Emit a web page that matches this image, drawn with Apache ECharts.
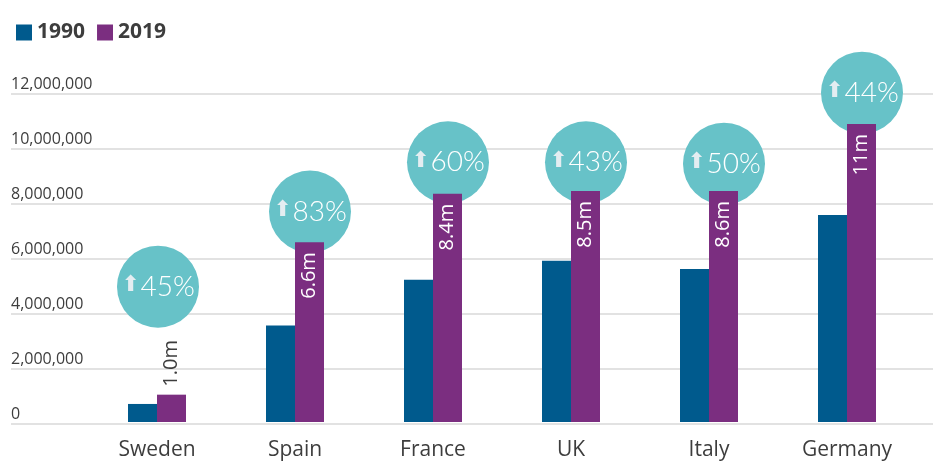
<!DOCTYPE html>
<html>
<head>
<meta charset="utf-8">
<script src="https://cdn.jsdelivr.net/npm/echarts@6/dist/echarts.min.js"></script>
<style>
  html, body { margin: 0; padding: 0; background: #fff; }
  #chart { width: 933px; height: 461px; }
</style>
</head>
<body>
<div id="chart"></div>
<script>
// data
const countries = ["Sweden", "Spain", "France", "UK", "Italy", "Germany"];
const values1990 = [660000, 3530000, 5200000, 5900000, 5600000, 7570000];
const values2019 = [1000000, 6580000, 8350000, 8450000, 8450000, 10900000];
const labels2019 = ["1.0m", "6.6m", "8.4m", "8.5m", "8.6m", "11m"];
const growth = [45, 83, 60, 43, 50, 44];
// height of the growth bubbles, in axis units
const bubbleY = [4950000, 7700000, 9500000, 9500000, 9450000, 12050000];

const yTicks = [0, 2000000, 4000000, 6000000, 8000000, 10000000, 12000000];

const font = "'Open Sans', 'Noto Sans', sans-serif";

const chart = echarts.init(document.getElementById("chart"));

const option = {
  animation: false,
  textStyle: { fontFamily: font },
  legend: {
    left: 11,
    top: 17,
    itemWidth: 16,
    itemHeight: 16,
    itemGap: 12,
    icon: "rect",
    data: ["1990", "2019"],
    textStyle: { fontSize: 21, fontWeight: "bold", color: "#3d3d3d" }
  },
  grid: [
    // background grid: gridlines + y labels
    { left: 11, right: 0, top: 94, bottom: 37 },
    // bars
    { left: 88, right: 17, top: 94, bottom: 37 }
  ],
  xAxis: [
    { type: "value", gridIndex: 0, min: 0, max: 1, show: false },
    {
      type: "category",
      gridIndex: 1,
      data: countries,
      axisLine: { show: false },
      axisTick: { show: false },
      axisLabel: { fontSize: 21, color: "#3d3d3d", margin: 18 }
    }
  ],
  yAxis: [
    {
      type: "value",
      gridIndex: 0,
      min: yTicks[0],
      max: yTicks[yTicks.length - 1],
      interval: 2000000,
      axisLine: { show: false },
      axisTick: { show: false },
      splitLine: { lineStyle: { color: "#d8d8d8", width: 1.5 } },
      axisLabel: {
        inside: true,
        margin: 0,
        verticalAlign: "bottom",
        padding: [0, 0, 2, 0],
        fontSize: 16,
        color: "#3d3d3d",
        formatter: v => v.toLocaleString("en-US")
      }
    },
    {
      type: "value",
      gridIndex: 1,
      min: yTicks[0],
      max: yTicks[yTicks.length - 1],
      show: false,
      splitLine: { show: false }
    }
  ],
  series: [
    {
      name: "growth",
      type: "scatter",
      xAxisIndex: 1,
      yAxisIndex: 1,
      clip: false,
      z: 1,
      symbol: "circle",
      symbolSize: 82,
      itemStyle: { color: "#67c2c8", opacity: 1 },
      data: bubbleY.map((y, i) => ({
        value: [i, y],
        symbolOffset: [i === 0 ? 1 : 15, 0]
      })),
      label: {
        show: true,
        position: "inside",
        formatter: p => "{a|\u2B06}{b|" + growth[p.dataIndex] + "%}",
        rich: {
          a: { fontSize: 22, color: "#e4edf1", fontFamily: "DejaVu Sans", padding: [0, 1, 3, 0] },
          b: { fontSize: 28, color: "#ffffff", fontFamily: "Lato", fontWeight: 300 }
        }
      }
    },
    {
      name: "1990",
      type: "bar",
      xAxisIndex: 1,
      yAxisIndex: 1,
      z: 2,
      barWidth: 29,
      barGap: "0%",
      itemStyle: { color: "#005a8d" },
      data: values1990
    },
    {
      name: "2019",
      type: "bar",
      xAxisIndex: 1,
      yAxisIndex: 1,
      z: 2,
      barWidth: 29,
      barGap: "0%",
      itemStyle: { color: "#7b2e80" },
      data: values2019.map((v, i) => {
        const outside = i === 0;
        return {
          value: v,
          label: {
            show: true,
            rotate: 90,
            position: outside ? "top" : "insideTop",
            align: outside ? "left" : "right",
            verticalAlign: "middle",
            distance: outside ? 8 : 10,
            fontSize: 20,
            color: outside ? "#3d3d3d" : "#ffffff",
            formatter: labels2019[i]
          }
        };
      })
    }
  ]
};

chart.setOption(option);
</script>
</body>
</html>
